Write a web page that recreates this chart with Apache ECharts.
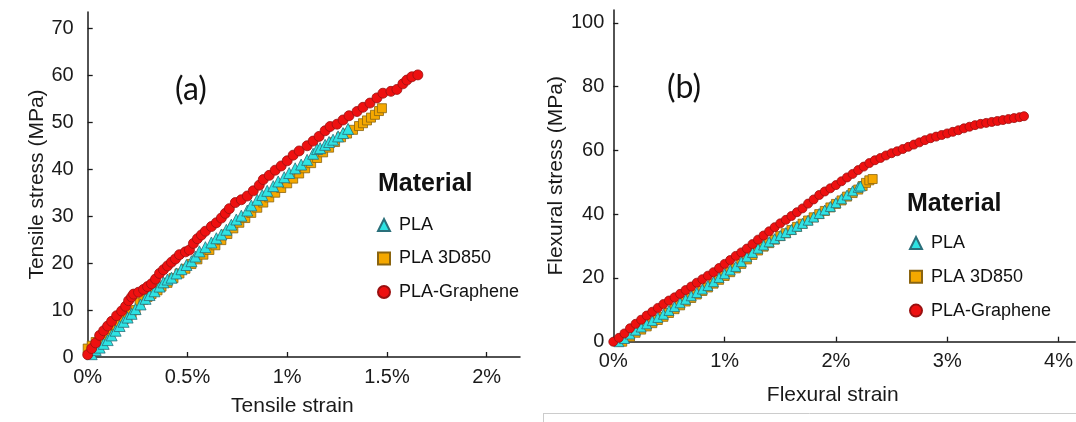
<!DOCTYPE html>
<html>
<head>
<meta charset="utf-8">
<script src="https://cdn.jsdelivr.net/npm/echarts@6/dist/echarts.min.js"></script>
<style>
html,body{margin:0;padding:0;background:#fff;}
#c{width:1076px;height:422px;}
</style>
</head>
<body>
<div id="c"></div>
<script>
// ---------- data (strain %, stress MPa) ----------
var seriesNames = ['PLA', 'PLA 3D850', 'PLA-Graphene'];

var tensileTicksX = [0, 0.5, 1, 1.5, 2];
var tensileTicksY = [0, 10, 20, 30, 40, 50, 60, 70];
var flexTicksX = [0, 1, 2, 3, 4];
var flexTicksY = [0, 20, 40, 60, 80, 100];

var tensilePLA = [
  [0.02,0.6],[0.04,1.5],[0.06,2.0],[0.08,2.8],[0.10,3.6],[0.12,4.6],[0.14,5.6],[0.16,6.6],
  [0.18,7.5],[0.20,8.4],[0.22,9.2],[0.24,10.2],[0.265,11.2],[0.29,12.4],[0.31,13.2],[0.335,14.0],
  [0.36,15.0],[0.38,15.9],[0.40,16.5],[0.42,16.9],[0.445,17.8],[0.47,18.7],[0.495,19.6],[0.52,20.4],
  [0.54,21.4],[0.56,22.5],[0.59,23.4],[0.62,24.4],[0.645,25.3],[0.67,26.1],[0.695,27.1],[0.72,28.2],
  [0.745,29.3],[0.77,30.1],[0.80,31.2],[0.82,32.3],[0.85,33.5],[0.875,34.5],[0.90,35.4],[0.93,36.4],
  [0.955,37.4],[0.985,38.3],[1.01,39.2],[1.04,40.2],[1.07,41.0],[1.10,42.0],[1.13,43.3],[1.15,44.3],
  [1.165,44.5],[1.19,45.2],[1.21,45.8],[1.23,46.3],[1.255,47.0],[1.28,47.7],[1.305,48.6]
];
var tensile3D850 = [
  [0.00,1.8],[0.02,2.4],[0.04,3.2],[0.06,3.8],[0.08,4.4],[0.10,5.2],[0.12,6.0],[0.14,6.8],
  [0.16,7.4],[0.18,8.0],[0.20,8.6],[0.22,9.3],[0.24,10.0],[0.26,11.6],[0.28,12.2],[0.30,12.8],
  [0.32,13.4],[0.35,14.2],[0.37,15.0],[0.40,15.8],[0.43,16.8],[0.46,17.8],[0.49,18.8],[0.52,19.8],
  [0.55,20.8],[0.58,21.8],[0.61,22.8],[0.64,23.8],[0.67,24.9],[0.70,26.2],[0.73,27.4],[0.76,28.6],
  [0.79,29.6],[0.82,30.7],[0.85,31.8],[0.88,32.9],[0.91,34.0],[0.94,35.0],[0.97,36.0],[1.00,37.0],
  [1.03,38.0],[1.06,39.1],[1.09,40.2],[1.12,41.3],[1.15,42.4],[1.18,43.6],[1.21,44.6],[1.24,45.8],
  [1.27,46.8],[1.30,47.6],[1.33,48.4],[1.36,49.2],[1.38,49.8],[1.40,50.4],[1.42,51.0],[1.44,51.6],
  [1.46,52.4],[1.475,53.0]
];
var tensileGraphene = [
  [0.00,0.5],[0.02,1.8],[0.04,3.0],[0.06,4.6],[0.08,5.6],[0.10,6.6],[0.12,7.6],[0.145,8.8],
  [0.17,9.8],[0.19,10.8],[0.205,12.0],[0.22,12.8],[0.23,13.4],[0.255,13.8],[0.28,14.4],[0.30,15.0],
  [0.32,15.6],[0.34,16.6],[0.36,17.8],[0.38,18.6],[0.40,19.4],[0.42,20.2],[0.44,20.9],[0.46,21.8],
  [0.49,22.4],[0.51,22.8],[0.53,24.2],[0.55,25.2],[0.57,26.0],[0.59,26.8],[0.62,27.8],[0.645,28.6],
  [0.67,29.6],[0.69,30.6],[0.71,31.6],[0.74,32.9],[0.77,33.5],[0.80,34.3],[0.83,35.4],[0.86,36.6],
  [0.88,37.8],[0.91,38.7],[0.94,39.8],[0.97,40.7],[1.00,41.8],[1.03,43.0],[1.06,43.9],[1.10,45.0],
  [1.13,46.0],[1.16,47.0],[1.19,48.2],[1.215,49.1],[1.25,49.6],[1.28,50.5],[1.31,51.4],[1.35,52.3],
  [1.38,53.2],[1.415,54.1],[1.45,55.2],[1.48,56.2],[1.52,56.6],[1.55,57.0],[1.58,58.2],[1.60,59.0],
  [1.625,59.7],[1.655,60.1]
];

var flexPLA = [
  [0.05,0.0],[0.10,1.0],[0.15,2.4],[0.20,3.6],[0.25,4.6],[0.30,5.6],[0.35,6.6],[0.40,7.6],
  [0.45,8.6],[0.50,9.8],[0.55,11.0],[0.60,12.2],[0.65,13.3],[0.70,14.4],[0.75,15.4],[0.80,16.5],
  [0.85,17.6],[0.90,18.8],[0.95,20.1],[1.00,21.3],[1.05,22.5],[1.10,23.6],[1.15,25.1],[1.20,26.6],
  [1.25,28.0],[1.30,29.3],[1.35,30.3],[1.40,31.3],[1.45,32.3],[1.50,33.3],[1.55,34.2],[1.60,35.2],
  [1.65,36.2],[1.70,37.1],[1.75,38.1],[1.80,39.1],[1.85,40.2],[1.90,41.3],[1.95,42.4],[2.00,43.6],
  [2.05,44.8],[2.10,46.0],[2.15,47.3],[2.20,48.4],[2.22,48.8]
];
var flex3D850 = [
  [0.08,0.0],[0.15,1.6],[0.20,2.8],[0.25,3.8],[0.30,4.8],[0.35,5.8],[0.40,6.8],[0.45,7.8],
  [0.50,9.0],[0.55,10.2],[0.60,11.4],[0.65,12.6],[0.70,13.7],[0.75,14.8],[0.80,15.9],[0.85,17.0],
  [0.90,18.2],[0.95,19.4],[1.00,20.6],[1.05,21.8],[1.10,23.0],[1.15,24.4],[1.20,25.8],[1.25,27.2],
  [1.30,28.6],[1.35,29.8],[1.40,30.9],[1.45,32.0],[1.50,33.1],[1.55,34.0],[1.60,35.0],[1.65,36.0],
  [1.70,37.0],[1.75,38.0],[1.80,39.0],[1.85,40.0],[1.90,41.0],[1.95,42.1],[2.00,43.2],[2.05,44.3],
  [2.10,45.5],[2.15,46.6],[2.20,47.7],[2.24,48.8],[2.27,49.8],[2.30,50.6],[2.33,51.0]
];
var flexGraphene = [
  [0.00,0.0],[0.05,1.2],[0.10,2.6],[0.15,4.2],[0.20,5.6],[0.25,6.9],[0.30,8.2],[0.35,9.4],
  [0.40,10.6],[0.45,11.8],[0.50,12.9],[0.55,13.9],[0.60,15.0],[0.65,16.2],[0.70,17.3],[0.75,18.5],
  [0.80,19.6],[0.85,20.7],[0.90,21.8],[0.95,23.1],[1.00,24.4],[1.05,25.6],[1.10,26.9],[1.15,28.0],
  [1.20,29.2],[1.25,30.6],[1.30,32.0],[1.35,33.3],[1.40,34.6],[1.45,35.9],[1.50,37.1],[1.55,38.2],
  [1.60,39.4],[1.65,40.6],[1.70,41.8],[1.75,43.3],[1.80,44.6],[1.85,46.0],[1.90,47.1],[1.95,48.1],
  [2.00,49.1],[2.05,50.3],[2.10,51.5],[2.15,52.6],[2.20,53.8],[2.25,54.9],[2.30,56.0],[2.35,56.9],
  [2.40,57.6],[2.45,58.4],[2.50,59.1],[2.55,59.7],[2.60,60.4],[2.65,61.1],[2.70,61.8],[2.75,62.5],
  [2.80,63.2],[2.85,63.8],[2.90,64.3],[2.95,64.8],[3.00,65.3],[3.05,65.8],[3.10,66.3],[3.15,66.9],
  [3.20,67.4],[3.25,67.9],[3.30,68.3],[3.35,68.6],[3.40,68.9],[3.45,69.2],[3.50,69.5],[3.55,69.8],
  [3.60,70.1],[3.65,70.4],[3.69,70.7]
];

// ---------- styles ----------
var FONT = 'Liberation Sans, Arial, sans-serif';
var styles = {
  'PLA':          {symbol:'triangle', color:'#2ee3e3', border:'#2a6f7a'},
  'PLA 3D850':    {symbol:'rect',     color:'#f5a800', border:'#8a6410'},
  'PLA-Graphene': {symbol:'circle',   color:'#ee1010', border:'#9a1010'}
};

function axisX(idx, ticks, max, name, nameGap) {
  return {
    type:'value', gridIndex: idx, min:0, max:max,
    axisLine:{show:true, onZero:false, lineStyle:{color:'#1a1a1a', width:1.5}},
    axisTick:{show:true, inside:true, length:5, customValues: ticks, lineStyle:{color:'#1a1a1a', width:1.3}},
    axisLabel:{customValues: ticks, formatter: function(v){return v + '%';},
               fontSize:20, color:'#1a1a1a', fontFamily:FONT, margin:10},
    splitLine:{show:false},
    name:name, nameLocation:'middle', nameGap:nameGap,
    nameTextStyle:{fontSize:21, color:'#1a1a1a', fontFamily:FONT, padding:[0,23,0,0]}
  };
}
function axisY(idx, ticks, max, name, nameGap, margin) {
  return {
    type:'value', gridIndex: idx, min:0, max:max,
    axisLine:{show:true, onZero:false, lineStyle:{color:'#1a1a1a', width:1.5}},
    axisTick:{show:true, inside:true, length:5, customValues: ticks, lineStyle:{color:'#1a1a1a', width:1.3}},
    axisLabel:{customValues: ticks, fontSize:20, color:'#1a1a1a', fontFamily:FONT, margin:margin},
    splitLine:{show:false},
    name:name, nameLocation:'middle', nameGap:nameGap,
    nameTextStyle:{fontSize:21, color:'#1a1a1a', fontFamily:FONT}
  };
}
function sc(name, idx, data, size) {
  var s = styles[name];
  return {
    type:'scatter', name:name, xAxisIndex:idx, yAxisIndex:idx, data:data,
    symbol:s.symbol, symbolSize:size[s.symbol],
    itemStyle:{color:s.color, borderColor:s.border, borderWidth:0.8, opacity:1},
    emphasis:{disabled:true}
  };
}
function legend(left, top, gap) {
  return {
    left:left, top:top, orient:'vertical', padding:0, itemGap:gap,
    itemWidth:12, itemHeight:12, selectedMode:false,
    textStyle:{fontSize:18, color:'#111', fontFamily:FONT, lineHeight:18, padding:[0,0,0,4]},
    data:[{name:'PLA', icon:'triangle'}, {name:'PLA 3D850', icon:'rect'}, {name:'PLA-Graphene', icon:'circle'}]
  };
}

var sizeL = {triangle:11, rect:9, circle:10};
var sizeR = {triangle:10, rect:9, circle:9};

var option = {
  animation:false,
  backgroundColor:'#fff',
  grid:[
    {left:87.7, top:12, width:432.3, height:346},
    {left:613.3, top:10, width:467, height:331.7}
  ],
  xAxis:[
    axisX(0, tensileTicksX, 2.167, 'Tensile strain', 39),
    axisX(1, flexTicksX, 4.15, 'Flexural strain', 43)
  ],
  yAxis:[
    axisY(0, tensileTicksY, 73.5, 'Tensile stress (MPa)', 33, 14),
    axisY(1, flexTicksY, 104, 'Flexural stress (MPa)', 47, 9)
  ],
  legend:[legend(377, 216, 15.5), legend(909, 234, 15.8)],
  series:[
    sc('PLA 3D850', 0, tensile3D850, sizeL),
    sc('PLA', 0, tensilePLA, sizeL),
    sc('PLA-Graphene', 0, tensileGraphene, sizeL),
    sc('PLA 3D850', 1, flex3D850, sizeR),
    sc('PLA', 1, flexPLA, sizeR),
    sc('PLA-Graphene', 1, flexGraphene, sizeR)
  ],
  graphic:[
    {type:'text', left:378, top:172, style:{text:'Material', font:'bold 25px ' + FONT, fill:'#111'}},
    {type:'text', left:907, top:192, style:{text:'Material', font:'bold 25px ' + FONT, fill:'#111'}},
    {type:'text', x:191, y:90, style:{text:'(a)', font:'32px Lato, "Open Sans", sans-serif', fill:'#111', align:'center', verticalAlign:'middle'}},
    {type:'text', x:684, y:88, style:{text:'(b)', font:'32px Lato, "Open Sans", sans-serif', fill:'#111', align:'center', verticalAlign:'middle'}},
    {type:'line', shape:{x1:543, y1:413.5, x2:1076, y2:413.5}, style:{stroke:'#cccccc', lineWidth:1}},
    {type:'line', shape:{x1:543.5, y1:413.5, x2:543.5, y2:422}, style:{stroke:'#cccccc', lineWidth:1}}
  ]
};

var chart = echarts.init(document.getElementById('c'), null, {renderer:'canvas'});
chart.setOption(option);
</script>
</body>
</html>
